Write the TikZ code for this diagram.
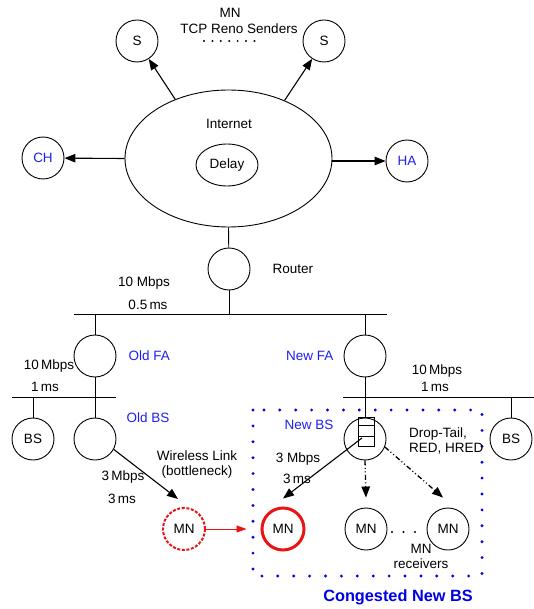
\documentclass[tikz,border=0pt]{standalone}
\usepackage{fontspec}
\setmainfont{Liberation Sans}
\usetikzlibrary{arrows.meta, positioning, shapes.geometric}
\definecolor{fablue}{RGB}{30,30,245}
\definecolor{boxblue}{RGB}{0,0,230}
\definecolor{mnred}{RGB}{235,20,20}

\begin{document}
\begin{tikzpicture}[x=1pt, y=-1pt,
    font=\fontsize{13.5}{15}\selectfont,
    host/.style={circle, draw, line width=0.9pt, minimum size=42pt, inner sep=0pt},
    cloud/.style={ellipse, draw, line width=0.9pt, inner sep=0pt},
    link/.style={line width=0.9pt},
    pkt/.style={line width=1.1pt, -{Triangle[length=11pt,width=8.5pt]}},
    dashdot/.style={pkt, line width=1.3pt, dash pattern=on 5pt off 2.5pt on 1pt off 2.5pt on 1pt off 2.5pt},
    agent/.style={text=fablue, inner sep=0pt},
    txt/.style={inner sep=0pt, align=center}]
    \useasboundingbox (0,0) rectangle (534,609);

    % internet and senders
    \node[cloud, minimum width=207pt, minimum height=137pt] (internet) at (228.5,158.5) {};
    \node[txt] (inetlabel) at (229,124) {Internet};
    \node[cloud, minimum width=62pt, minimum height=42pt] (delay) at (227,165) {Delay};
    \node[host] (sleft) at (137,41) {S};
    \node[host] (sright) at (324,41) {S};
    \node[txt] (mnsend) at (230,13) {MN};
    \node[txt] (sendlabel) at (239,29) {TCP Reno Senders};
    \foreach \i in {0,...,6}
        \fill (204+8.4*\i,41) circle (1.1pt);
    \node[host, text=fablue] (ch) at (43,158) {CH};
    \node[host, text=fablue] (ha) at (407,161) {HA};

    \draw[pkt] (internet.132) -- (sleft);
    \draw[pkt] (internet.46) -- (sright);
    \draw[pkt] (internet.west) -- (ch);
    \draw[pkt] (internet.east |- ha) -- (ha);

    % wired part
    \node[host] (router) at (229,269) {};
    \node[txt, right=22pt of router] (routerlabel) {Router};
    \node[host] (oldfa) at (95,356) {};
    \node[host] (newfa) at (365,356) {};
    \node[agent, right=12pt of oldfa] (oldfalabel) {Old FA};
    \node[agent, left=10pt of newfa] (newfalabel) {New FA};
    \node[host] (bsleft) at (33,439) {BS};
    \node[host] (oldbs) at (95,439) {};
    \node[host] (newbs) at (365,439) {};
    \node[host] (bsright) at (511,439) {BS};
    \node[agent] (oldbslabel) at (148,418) {Old BS};
    \node[agent] (newbslabel) at (309,425) {New BS};

    \coordinate (busL) at (74,314);
    \coordinate (busR) at (387,314);
    \coordinate (lbusL) at (12,397);
    \coordinate (lbusR) at (116,397);
    \coordinate (rbusL) at (343,397);
    \coordinate (rbusR) at (534,397);
    \draw[link] (busL) -- (busR);
    \draw[link] (lbusL) -- (lbusR);
    \draw[link] (rbusL) -- (rbusR);
    \draw[link] (internet.south) -- (router);
    \draw[link] (router) -- (router |- busL);
    \draw[link] (oldfa) -- (oldfa |- busL);
    \draw[link] (newfa) -- (newfa |- busL);
    \draw[link] (oldfa) -- (oldfa |- lbusL);
    \draw[link] (bsleft) -- (bsleft |- lbusL);
    \draw[link] (oldbs) -- (oldbs |- lbusL);
    \draw[link] (newfa) -- (newfa |- rbusL);
    \draw[link] (newbs) -- (newbs |- rbusL);
    \draw[link] (bsright) -- (bsright |- rbusL);

    \node[txt] (topbw) at (144,283) {10 Mbps};
    \node[txt] (topdl) at (148,305) {0.5\,ms};
    \node[txt] (leftbw) at (49,366) {10\,Mbps};
    \node[txt] (leftdl) at (45,387) {1\,ms};
    \node[txt] (rightbw) at (437,371) {10\,Mbps};
    \node[txt] (rightdl) at (435,387) {1\,ms};

    % queue in the new BS
    \begin{scope}[shift={(newbs.north)}]
        \draw[link] (-7,0) rectangle (9,29);
        \foreach \q in {8,19}
            \draw[link] (-7,\q) -- (9,\q);
    \end{scope}

    % wireless part
    \draw[boxblue, line width=3.2pt, line cap=round, dash pattern=on 0pt off 15.9pt] (253,410) rectangle (482,576);
    \node[host, draw=mnred, line width=2pt, dash pattern=on 3pt off 1.6pt] (mnold) at (184,529) {MN};
    \node[host, draw=mnred, line width=3pt] (mnnew) at (283,529) {MN};
    \node[host] (mnA) at (366,529) {MN};
    \node[host] (mnB) at (448,529) {MN};
    \foreach \i in {0,1,2}
        \fill (392+11.5*\i,532) circle (1.1pt);
    \node[txt] (rcvlabel) at (421,556) {MN\\receivers};

    \draw[pkt] (oldbs.-29) -- ([xshift=-6pt,yshift=8pt]mnold.north);
    \draw[mnred, line width=0.9pt, -{Triangle[length=10pt,width=7pt]}, shorten >=14pt] (mnold) -- (mnnew);
    \draw[pkt] ([shift={(-3,-1)}]newbs.center) -- ([yshift=8pt]mnnew.north);
    \draw[dashdot] (newbs.south) -- ([yshift=10pt]mnA.north);
    \draw[dashdot] (newbs.-22) -- ([xshift=-5pt,yshift=10pt]mnB.north);

    \node[txt] (wlabel) at (197,465) {Wireless Link\\(bottleneck)};
    \node[txt] (oldbw) at (123,477) {3\,Mbps};
    \node[txt] (olddl) at (122,499) {3\,ms};
    \node[txt] (newbw) at (298,459) {3 Mbps};
    \node[txt] (newdl) at (297,479) {3\,ms};
    \node[inner sep=0pt, align=left, anchor=west] (qlabel) at (409,441) {Drop-Tail,\\RED, HRED};
    \node[txt, text=boxblue, font=\fontsize{16.3}{18}\selectfont\bfseries] (boxlabel) at (398,597) {Congested New BS};
\end{tikzpicture}
\end{document}
